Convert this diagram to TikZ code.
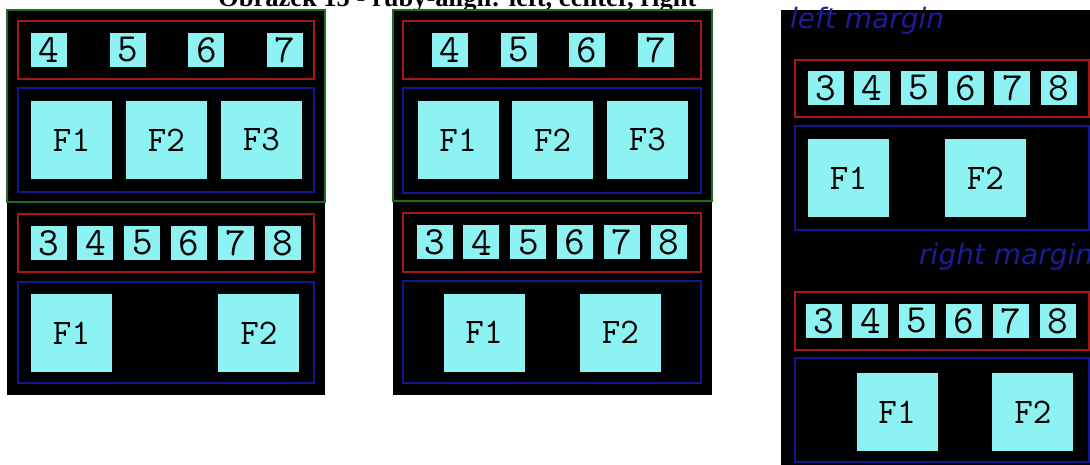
\documentclass[tikz,border=0pt]{standalone}
\usepackage{fontspec}
\usetikzlibrary{positioning}
\newfontfamily\titlefamily{Liberation Serif}
\newfontfamily\notefamily{DejaVu Sans}
\definecolor{cellcyan}{RGB}{140,242,242}
\definecolor{framered}{RGB}{165,22,22}
\definecolor{frameblue}{RGB}{22,22,140}
\definecolor{framegreen}{RGB}{30,110,30}
\definecolor{noteblue}{RGB}{28,28,150}

\begin{document}
\begin{tikzpicture}[x=1pt,y=-1pt,
  cell/.style={fill=cellcyan,inner sep=0pt,minimum width=36pt,minimum height=34pt,
    font=\ttfamily\fontsize{40}{40}\selectfont},
  flow/.style={fill=cellcyan,inner sep=0pt,minimum width=81pt,minimum height=78pt,
    font=\ttfamily\fontsize{36}{36}\selectfont},
  rubyframe/.style={draw=framered,line width=2pt},
  baseframe/.style={draw=frameblue,line width=2pt},
  lineframe/.style={draw=framegreen,line width=2pt},
  panel/.style={fill=black},
  note/.style={text=noteblue,inner sep=0pt,anchor=base west,
    font=\notefamily\itshape\fontsize{28}{28}\selectfont}]
\useasboundingbox (0,0) rectangle (1090,465);
\clip (0,0) rectangle (1090,465);

% title, cut at the top
\node[inner sep=0pt,anchor=base west,font=\titlefamily\bfseries\fontsize{26.5}{26.5}\selectfont]
  (title) at (218,6.5) {Obrázek 15 - ruby-align: left, center, right};

% left: ruby-align left
\fill[panel] (7,10) rectangle (325,395);
\draw[lineframe] (7,10) rectangle (325,202);
\draw[rubyframe] (18,21) rectangle (314,79);
\node[cell] (la4) at (49,50) {4};
\node[cell,right=42.3pt of la4] (la5) {5};
\node[cell,right=42.3pt of la5] (la6) {6};
\node[cell,right=42.3pt of la6] (la7) {7};
\draw[baseframe] (18,88) rectangle (314,192);
\node[flow] (lf1) at (71.5,140) {F1};
\node[flow,right=13.5pt of lf1] (lf2) {F2};
\node[flow,right=13.5pt of lf2] (lf3) {F3};
\draw[rubyframe] (18,214) rectangle (314,272);
\node[cell] (lb3) at (48.5,243) {3};
\node[cell,right=10.5pt of lb3] (lb4) {4};
\node[cell,right=10.5pt of lb4] (lb5) {5};
\node[cell,right=10.5pt of lb5] (lb6) {6};
\node[cell,right=10.5pt of lb6] (lb7) {7};
\node[cell,right=10.5pt of lb7] (lb8) {8};
\draw[baseframe] (18,282) rectangle (314,383);
\node[flow] (lg1) at (71.5,333) {F1};
\node[flow,right=106pt of lg1] (lg2) {F2};

% middle: ruby-align center
\fill[panel] (393,10) rectangle (712,395);
\draw[lineframe] (393,10) rectangle (712,201);
\draw[rubyframe] (403,21) rectangle (701,79);
\node[cell] (ca4) at (450,50) {4};
\node[cell,right=32.2pt of ca4] (ca5) {5};
\node[cell,right=32.2pt of ca5] (ca6) {6};
\node[cell,right=32.2pt of ca6] (ca7) {7};
\draw[baseframe] (403,88) rectangle (701,193);
\node[flow] (cf1) at (458,140) {F1};
\node[flow,right=13.3pt of cf1] (cf2) {F2};
\node[flow,right=13.3pt of cf2] (cf3) {F3};
\draw[rubyframe] (403,213) rectangle (701,272);
\node[cell] (cb3) at (434.5,242.5) {3};
\node[cell,right=10.5pt of cb3] (cb4) {4};
\node[cell,right=10.5pt of cb4] (cb5) {5};
\node[cell,right=10.5pt of cb5] (cb6) {6};
\node[cell,right=10.5pt of cb6] (cb7) {7};
\node[cell,right=10.5pt of cb7] (cb8) {8};
\draw[baseframe] (403,281) rectangle (701,383);
\node[flow] (cg1) at (484,332.5) {F1};
\node[flow,right=55pt of cg1] (cg2) {F2};

% right: margins
\fill[panel] (781,10) rectangle (1090,465);
\node[note] (leftnote) at (790,29) {left margin};
\draw[rubyframe] (795,60) rectangle (1089,117);
\node[cell] (ra3) at (825.5,88) {3};
\node[cell,right=10.3pt of ra3] (ra4) {4};
\node[cell,right=10.3pt of ra4] (ra5) {5};
\node[cell,right=10.3pt of ra5] (ra6) {6};
\node[cell,right=10.3pt of ra6] (ra7) {7};
\node[cell,right=10.3pt of ra7] (ra8) {8};
\draw[baseframe] (795,126) rectangle (1089,230);
\node[flow] (rf1) at (848.5,178) {F1};
\node[flow,right=55.5pt of rf1] (rf2) {F2};
\node[note] (rightnote) at (919,265) {right margin};
\draw[rubyframe] (795,292) rectangle (1089,350);
\node[cell] (rb3) at (823.5,321) {3};
\node[cell,right=10.4pt of rb3] (rb4) {4};
\node[cell,right=10.4pt of rb4] (rb5) {5};
\node[cell,right=10.4pt of rb5] (rb6) {6};
\node[cell,right=10.4pt of rb6] (rb7) {7};
\node[cell,right=10.4pt of rb7] (rb8) {8};
\draw[baseframe] (795,358) rectangle (1089,462);
\node[flow] (rg1) at (897,412) {F1};
\node[flow,right=54.5pt of rg1] (rg2) {F2};
\end{tikzpicture}
\end{document}
